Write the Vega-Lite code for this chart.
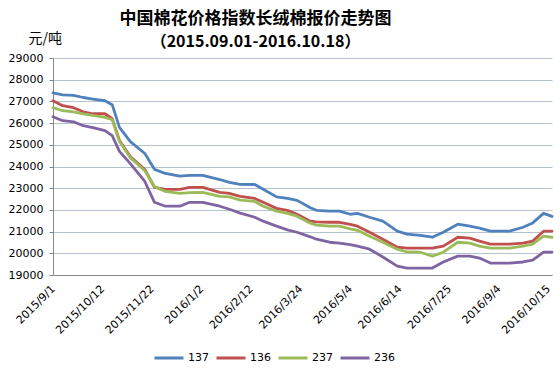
{
  "$schema": "https://vega.github.io/schema/vega-lite/v6.json",
  "width": 499,
  "height": 217,
  "autosize": "none",
  "padding": {"left": 53, "top": 58, "right": 8, "bottom": 104},
  "background": "white",
  "title": {
    "text": "中国棉花价格指数长绒棉报价走势图",
    "subtitle": "（2015.09.01-2016.10.18）",
    "anchor": "middle",
    "frame": "group",
    "dx": -47,
    "dy": 28,
    "offset": 8,
    "font": "Noto Sans CJK SC",
    "fontSize": 17,
    "fontWeight": "bold",
    "color": "#000000",
    "subtitleFont": "Noto Sans CJK SC",
    "subtitleFontSize": 16,
    "subtitleFontWeight": "bold",
    "subtitleColor": "#000000",
    "subtitlePadding": 6
  },
  "data": {
    "values": [
      {"d": "2015/09/01", "137": 27390, "136": 27030, "237": 26710, "236": 26290},
      {"d": "2015/09/09", "137": 27300, "136": 26800, "237": 26570, "236": 26110},
      {"d": "2015/09/18", "137": 27280, "136": 26710, "237": 26520, "236": 26060},
      {"d": "2015/09/26", "137": 27180, "136": 26520, "237": 26430, "236": 25880},
      {"d": "2015/10/04", "137": 27110, "136": 26430, "237": 26360, "236": 25790},
      {"d": "2015/10/14", "137": 27030, "136": 26430, "237": 26260, "236": 25650},
      {"d": "2015/10/20", "137": 26850, "136": 26200, "237": 26160, "236": 25420},
      {"d": "2015/10/26", "137": 25800, "136": 25200, "237": 25150, "236": 24700},
      {"d": "2015/11/04", "137": 25150, "136": 24460, "237": 24410, "236": 24130},
      {"d": "2015/11/16", "137": 24600, "136": 23860, "237": 23800, "236": 23310},
      {"d": "2015/11/24", "137": 23870, "136": 23040, "237": 23080, "236": 22350},
      {"d": "2015/12/03", "137": 23680, "136": 22950, "237": 22850, "236": 22170},
      {"d": "2015/12/15", "137": 23560, "136": 22950, "237": 22760, "236": 22170},
      {"d": "2015/12/23", "137": 23590, "136": 23040, "237": 22800, "236": 22350},
      {"d": "2016/01/03", "137": 23590, "136": 23040, "237": 22810, "236": 22350},
      {"d": "2016/01/17", "137": 23400, "136": 22810, "237": 22620, "236": 22170},
      {"d": "2016/01/25", "137": 23270, "136": 22760, "237": 22600, "236": 22030},
      {"d": "2016/02/03", "137": 23180, "136": 22620, "237": 22450, "236": 21850},
      {"d": "2016/02/15", "137": 23170, "136": 22530, "237": 22390, "236": 21660},
      {"d": "2016/02/22", "137": 22950, "136": 22350, "237": 22170, "236": 21480},
      {"d": "2016/03/04", "137": 22600, "136": 22070, "237": 21940, "236": 21250},
      {"d": "2016/03/13", "137": 22530, "136": 21980, "237": 21840, "236": 21080},
      {"d": "2016/03/21", "137": 22440, "136": 21800, "237": 21710, "236": 20970},
      {"d": "2016/04/01", "137": 22100, "136": 21480, "237": 21390, "236": 20760},
      {"d": "2016/04/06", "137": 21980, "136": 21450, "237": 21300, "236": 20650},
      {"d": "2016/04/17", "137": 21940, "136": 21430, "237": 21250, "236": 20510},
      {"d": "2016/04/25", "137": 21940, "136": 21430, "237": 21250, "236": 20470},
      {"d": "2016/05/04", "137": 21800, "136": 21330, "237": 21130, "236": 20400},
      {"d": "2016/05/10", "137": 21840, "136": 21250, "237": 21060, "236": 20330},
      {"d": "2016/05/20", "137": 21660, "136": 20970, "237": 20790, "236": 20190},
      {"d": "2016/05/31", "137": 21480, "136": 20650, "237": 20510, "236": 19830},
      {"d": "2016/06/12", "137": 21020, "136": 20280, "237": 20190, "236": 19410},
      {"d": "2016/06/20", "137": 20880, "136": 20240, "237": 20060, "236": 19320},
      {"d": "2016/07/01", "137": 20830, "136": 20240, "237": 20050, "236": 19320},
      {"d": "2016/07/11", "137": 20740, "136": 20240, "237": 19870, "236": 19320},
      {"d": "2016/07/20", "137": 20970, "136": 20330, "237": 20050, "236": 19600},
      {"d": "2016/08/01", "137": 21340, "136": 20740, "237": 20510, "236": 19870},
      {"d": "2016/08/11", "137": 21250, "136": 20700, "237": 20470, "236": 19870},
      {"d": "2016/08/19", "137": 21160, "136": 20560, "237": 20330, "236": 19780},
      {"d": "2016/08/28", "137": 21020, "136": 20420, "237": 20240, "236": 19550},
      {"d": "2016/09/13", "137": 21020, "136": 20420, "237": 20240, "236": 19550},
      {"d": "2016/09/24", "137": 21200, "136": 20470, "237": 20330, "236": 19600},
      {"d": "2016/10/02", "137": 21400, "136": 20560, "237": 20420, "236": 19690},
      {"d": "2016/10/11", "137": 21840, "136": 21020, "237": 20790, "236": 20050},
      {"d": "2016/10/18", "137": 21700, "136": 21020, "237": 20740, "236": 20050}
    ]
  },
  "transform": [
    {"fold": ["137", "136", "237", "236"], "as": ["series", "price"]}
  ],
  "mark": {"type": "line", "strokeWidth": 2.8, "strokeJoin": "round", "strokeCap": "round"},
  "encoding": {
    "x": {
      "field": "d",
      "type": "temporal",
      "scale": {
        "domain": [
          {"year": 2015, "month": 9, "date": 1},
          {"year": 2016, "month": 10, "date": 18}
        ],
        "nice": false
      },
      "axis": {
        "title": null,
        "values": [
          {"year": 2015, "month": 9, "date": 1},
          {"year": 2015, "month": 10, "date": 12},
          {"year": 2015, "month": 11, "date": 22},
          {"year": 2016, "month": 1, "date": 2},
          {"year": 2016, "month": 2, "date": 12},
          {"year": 2016, "month": 3, "date": 24},
          {"year": 2016, "month": 5, "date": 4},
          {"year": 2016, "month": 6, "date": 14},
          {"year": 2016, "month": 7, "date": 25},
          {"year": 2016, "month": 9, "date": 4},
          {"year": 2016, "month": 10, "date": 15}
        ],
        "format": "%Y/%-m/%-d",
        "labelAngle": -45,
        "labelAlign": "right",
        "labelBaseline": "middle",
        "labelPadding": 12,
        "labelFont": "DejaVu Sans",
        "labelFontSize": 11,
        "labelColor": "#000000",
        "labelOverlap": false,
        "labelFlush": false,
        "ticks": false,
        "grid": false,
        "domainColor": "#888888",
        "domainWidth": 1
      }
    },
    "y": {
      "field": "price",
      "type": "quantitative",
      "scale": {"domain": [19000, 29000], "nice": false, "zero": false},
      "axis": {
        "title": "元/吨",
        "titleAngle": 0,
        "titleAlign": "left",
        "titleBaseline": "alphabetic",
        "titleX": -25,
        "titleY": -16,
        "titleFont": "Noto Sans CJK SC",
        "titleFontSize": 14,
        "titleFontWeight": "normal",
        "titleColor": "#000000",
        "values": [19000, 20000, 21000, 22000, 23000, 24000, 25000, 26000, 27000, 28000, 29000],
        "format": "d",
        "labelFont": "DejaVu Sans",
        "labelFontSize": 11,
        "labelColor": "#000000",
        "labelPadding": 6,
        "tickSize": 4,
        "tickColor": "#888888",
        "domainColor": "#888888",
        "gridColor": "#b4c2cf",
        "gridWidth": 1,
        "grid": true
      }
    },
    "color": {
      "field": "series",
      "type": "nominal",
      "sort": ["137", "136", "237", "236"],
      "scale": {
        "domain": ["137", "136", "237", "236"],
        "range": ["#4F81BD", "#C0504D", "#9BBB59", "#8064A2"]
      },
      "legend": {
        "title": null,
        "orient": "none",
        "direction": "horizontal",
        "legendX": 100,
        "legendY": 284,
        "symbolType": "stroke",
        "symbolSize": 841,
        "symbolStrokeWidth": 3,
        "labelFont": "DejaVu Sans",
        "labelFontSize": 11,
        "labelColor": "#000000",
        "labelOffset": 3,
        "columnPadding": 1
      }
    }
  },
  "config": {
    "view": {"stroke": null}
  }
}
